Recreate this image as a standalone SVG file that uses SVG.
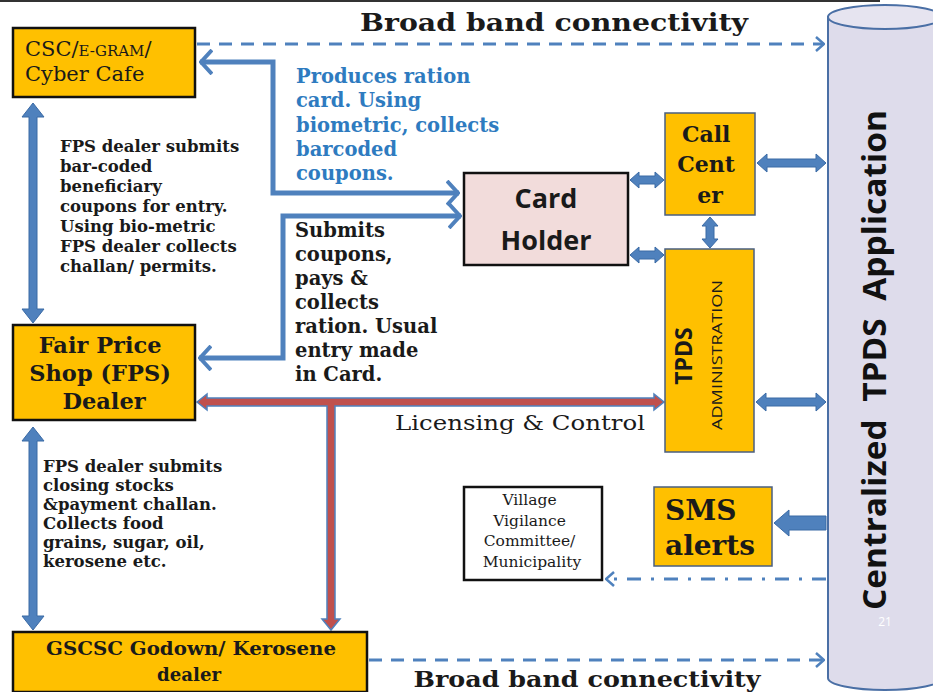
<svg xmlns="http://www.w3.org/2000/svg" width="933" height="692" viewBox="0 0 933 692">
<defs>
<style>
.box{fill:#FFC000;stroke:#111;stroke-width:2.5}
.box2{fill:#FFC000;stroke:#4A5F80;stroke-width:1.5}
.serif{font-family:"DejaVu Serif","Liberation Serif",serif}
.sans{font-family:"Open Sans","DejaVu Sans",sans-serif}
.b{font-weight:bold}
.blk{fill:#1a1a1a}
.bar{fill:#4F81BD;stroke:#3A6AA5;stroke-width:1}
.red{fill:#C0504D;stroke:#4F81BD;stroke-width:1.5}
.line{fill:none;stroke:#4F81BD;stroke-width:5;stroke-linejoin:miter}
.dash{fill:none;stroke:#4F81BD;stroke-width:3;stroke-dasharray:13 9}
.dashdot{fill:none;stroke:#4F81BD;stroke-width:3;stroke-dasharray:14 10 3 10}
</style>
<marker id="chev" viewBox="0 0 14 26" refX="13" refY="13" markerWidth="14" markerHeight="26" markerUnits="userSpaceOnUse" orient="auto-start-reverse">
<path d="M1,1 L12,13 L1,25" fill="none" stroke="#4F81BD" stroke-width="4"/>
</marker>
<marker id="chevs" viewBox="0 0 10 16" refX="9" refY="8" markerWidth="10" markerHeight="16" markerUnits="userSpaceOnUse" orient="auto-start-reverse">
<path d="M1,1 L9,8 L1,15" fill="none" stroke="#4F81BD" stroke-width="2.5"/>
</marker>
</defs>
<rect width="933" height="692" fill="#fff"/>
<rect x="0" y="0" width="880" height="2" fill="#333"/>

<g id="cylinder">
<path d="M828,17 L828,678 A57,12 0 0 0 942,678 L942,17 Z" fill="#DEDCEB" stroke="#4A6FA5" stroke-width="2"/>
<ellipse cx="885" cy="17" rx="57" ry="12" fill="#E6E4F0" stroke="#4A6FA5" stroke-width="2"/>
<text class="sans b" font-size="33" fill="#111" text-anchor="middle" transform="translate(886,360) rotate(-90)" textLength="500" lengthAdjust="spacingAndGlyphs" xml:space="preserve">Centralized  TPDS  Application</text>
<text class="sans" font-size="12" fill="#fff" x="885" y="626" text-anchor="middle">21</text>
</g>

<g id="connectors">
<path class="dash" d="M197,44 L824,44" marker-end="url(#chevs)"/>
<path class="dash" d="M369,660 L824,660" marker-end="url(#chevs)"/>
<path class="dashdot" d="M826,579 L606,579" marker-end="url(#chevs)"/>
<path class="line" d="M200,62 L273,62 L273,193 L459,193" marker-start="url(#chev)" marker-end="url(#chev)"/>
<path class="line" d="M461,216 L283,216 L283,358 L199,358" marker-start="url(#chev)" marker-end="url(#chev)"/>
<polygon class="bar" points="33,103 44,117 37,117 37,309 44,309 33,323 22,309 29,309 29,117 22,117"/>
<polygon class="bar" points="33,427 44,441 37,441 37,616 44,616 33,630 22,616 29,616 29,441 22,441"/>
<polygon class="bar" points="630,180 639,172 639,176 655,176 655,172 664,180 655,188 655,184 639,184 639,188"/>
<polygon class="bar" points="630,255 639,247 639,251 655,251 655,247 664,255 655,263 655,259 639,259 639,263"/>
<polygon class="bar" points="710,217 718,226 714,226 714,239 718,239 710,248 702,239 706,239 706,226 702,226"/>
<polygon class="bar" points="757,163 767,154 767,159 816,159 816,154 826,163 816,172 816,167 767,167 767,172"/>
<polygon class="bar" points="756,402 766,393 766,398 816,398 816,393 826,402 816,411 816,406 766,406 766,411"/>
<polygon class="bar" points="774,523 789,510 789,516 826,516 826,530 789,530 789,536"/>
<polygon class="red" points="197,402 207,394 207,398 654,398 654,394 664,402 654,410 654,406 335,406 335,619 340,619 331,630 322,619 327,619 327,406 207,406 207,410"/>
</g>

<g id="broadband-top">
<text class="serif b blk" font-size="25" x="554" y="31" text-anchor="middle" textLength="388" lengthAdjust="spacingAndGlyphs">Broad band connectivity</text>
</g>
<g id="broadband-bottom">
<text class="serif blk" font-size="23" x="587" y="687" text-anchor="middle" textLength="347" lengthAdjust="spacingAndGlyphs" font-weight="600">Broad band connectivity</text>
</g>

<g id="csc">
<rect class="box" x="13" y="28" width="182" height="69"/>
<text class="serif blk" font-size="21" x="25" y="56">CSC/<tspan font-size="15">E-GRAM</tspan>/</text>
<text class="serif blk" font-size="21" x="25" y="81">Cyber Cafe</text>
</g>

<g id="produces-text">
<text class="serif b" font-size="19.5" fill="#2E7BC0">
<tspan x="296" y="83">Produces ration</tspan>
<tspan x="296" y="107">card. Using</tspan>
<tspan x="296" y="132">biometric, collects</tspan>
<tspan x="296" y="156">barcoded</tspan>
<tspan x="296" y="180">coupons.</tspan>
</text>
</g>

<g id="fps-text-1">
<text class="serif b blk" font-size="16.5">
<tspan x="60" y="152">FPS dealer submits</tspan>
<tspan x="60" y="172">bar-coded</tspan>
<tspan x="60" y="192">beneficiary</tspan>
<tspan x="60" y="212">coupons for entry.</tspan>
<tspan x="60" y="232">Using bio-metric</tspan>
<tspan x="60" y="252">FPS dealer collects</tspan>
<tspan x="60" y="272">challan/ permits.</tspan>
</text>
</g>

<g id="submits-text">
<text class="serif b blk" font-size="19.5">
<tspan x="295" y="237">Submits</tspan>
<tspan x="295" y="261">coupons,</tspan>
<tspan x="295" y="285">pays &amp;</tspan>
<tspan x="295" y="309">collects</tspan>
<tspan x="295" y="333">ration. Usual</tspan>
<tspan x="295" y="357">entry made</tspan>
<tspan x="295" y="381">in Card.</tspan>
</text>
</g>

<g id="fps-text-2">
<text class="serif b blk" font-size="16.5">
<tspan x="43" y="472">FPS dealer submits</tspan>
<tspan x="43" y="491">closing stocks</tspan>
<tspan x="43" y="510">&amp;payment challan.</tspan>
<tspan x="43" y="529">Collects food</tspan>
<tspan x="43" y="548">grains, sugar, oil,</tspan>
<tspan x="43" y="567">kerosene etc.</tspan>
</text>
</g>

<g id="licensing-label">
<text class="serif blk" font-size="21" x="520" y="430" text-anchor="middle" textLength="250" lengthAdjust="spacingAndGlyphs">Licensing &amp; Control</text>
</g>

<g id="card-holder">
<rect x="464" y="173" width="164" height="92" fill="#F2DCDB" stroke="#111" stroke-width="2.5"/>
<text class="sans b blk" font-size="27" x="546" y="208" text-anchor="middle">Card</text>
<text class="sans b blk" font-size="27" x="546" y="250" text-anchor="middle">Holder</text>
</g>

<g id="call-center">
<rect class="box2" x="665" y="113" width="90" height="102"/>
<text class="serif b blk" font-size="22" text-anchor="middle">
<tspan x="710" y="142">Call</tspan>
<tspan x="710" y="172">Cent</tspan>
<tspan x="710" y="203">er</tspan>
</text>
</g>

<g id="tpds-admin">
<rect class="box2" x="665" y="249" width="89" height="203"/>
<text class="sans b blk" font-size="23" text-anchor="middle" transform="translate(692,356) rotate(-90)">TPDS</text>
<text class="sans blk" font-size="15" text-anchor="middle" transform="translate(722,355) rotate(-90)" textLength="150" lengthAdjust="spacingAndGlyphs">ADMINISTRATION</text>
</g>

<g id="sms-alerts">
<rect class="box2" x="654" y="487" width="118" height="79"/>
<text class="serif b blk" font-size="28" x="665" y="520">SMS</text>
<text class="serif b blk" font-size="28" x="665" y="555">alerts</text>
</g>

<g id="village">
<rect x="464" y="487" width="138" height="93" fill="#fff" stroke="#111" stroke-width="2.5"/>
<text class="serif blk" font-size="15.5" text-anchor="middle">
<tspan x="532" y="505">Village</tspan>
<tspan x="532" y="526">Vigilance</tspan>
<tspan x="532" y="546">Committee/</tspan>
<tspan x="532" y="567">Municipality</tspan>
</text>
</g>

<g id="fps">
<rect class="box" x="13" y="325" width="182" height="95"/>
<text class="serif b blk" font-size="22.5" text-anchor="middle">
<tspan x="104" y="353">Fair Price</tspan>
<tspan x="104" y="381">Shop (FPS)</tspan>
<tspan x="104" y="409">Dealer</tspan>
</text>
</g>

<g id="gscsc">
<rect class="box" x="13" y="632" width="354" height="60"/>
<text class="serif b blk" font-size="19" x="191" y="655" text-anchor="middle" textLength="290" lengthAdjust="spacingAndGlyphs">GSCSC Godown/ Kerosene</text>
<text class="serif b blk" font-size="19" x="189" y="681" text-anchor="middle" textLength="64" lengthAdjust="spacingAndGlyphs">dealer</text>
</g>
</svg>
